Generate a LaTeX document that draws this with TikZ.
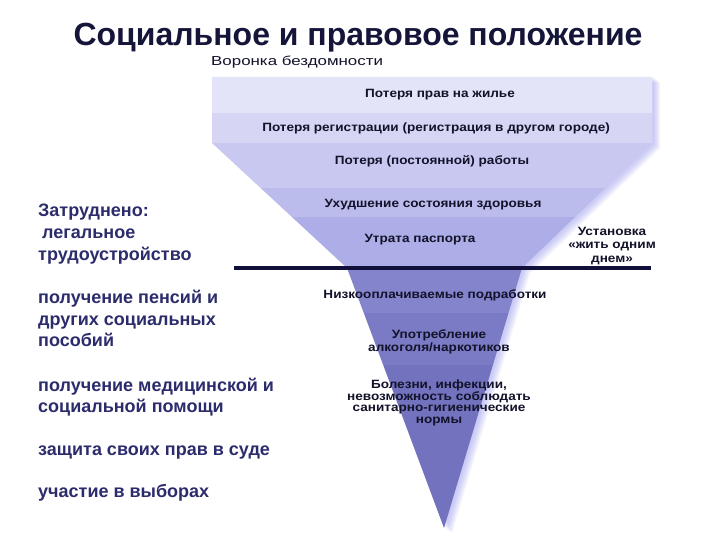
\documentclass[tikz,border=0pt]{standalone}
\usepackage{fontspec}
\setmainfont{Liberation Sans}
\newfontfamily\wideA[FakeStretch=1.13]{Liberation Sans}
\newfontfamily\wideB[FakeStretch=1.3]{Liberation Sans}
\definecolor{titlec}{HTML}{15153A}
\definecolor{sidec}{HTML}{2C2C6C}
\definecolor{bandtext}{HTML}{12122A}
\definecolor{linec}{HTML}{10103A}
\definecolor{shadowc}{HTML}{9A9AF0}
\definecolor{bA}{HTML}{E4E4F8}
\definecolor{bB}{HTML}{D6D6F4}
\definecolor{bC}{HTML}{C8C8F1}
\definecolor{bD}{HTML}{BBBBEC}
\definecolor{bE}{HTML}{ADADE7}
\definecolor{bF}{HTML}{8484CC}
\definecolor{bG}{HTML}{7A7AC5}
\definecolor{bH}{HTML}{7272BE}
\begin{document}
\begin{tikzpicture}[x=1pt,y=-1pt,
  funnelpath/.style={insert path={(212,77) -- (652,77) -- (652,143) -- (522,268) -- (444,528) -- (347,268) -- (212,143) -- cycle}},
  band/.style={font=\wideA\bfseries\fontsize{12}{12.5}\selectfont, text=bandtext, align=center, inner sep=0},
  side/.style={font=\bfseries\fontsize{18}{21}\selectfont, text=sidec, anchor=base west, inner sep=0},
]
\useasboundingbox (0,0) rectangle (720,540);
\fill[white] (0,0) rectangle (720,540);
% shadow
\foreach \i in {1,...,7} {
  \path[fill=shadowc, fill opacity=0.09, shift={(\i+1,\i*0.8)}, funnelpath];
}
% bands
\begin{scope}
  \clip[funnelpath];
  \fill[bA] (200,70) rectangle (670,113);
  \fill[bB] (200,113) rectangle (670,143);
  \fill[bC] (200,143) rectangle (670,188);
  \fill[bD] (200,188) rectangle (670,217);
  \fill[bE] (200,217) rectangle (670,268);
  \fill[bF] (200,268) rectangle (670,313);
  \fill[bG] (200,313) rectangle (670,365);
  \fill[bH] (200,365) rectangle (670,540);
\end{scope}
% separating line
\coordinate (l1) at (234,268);
\coordinate (l2) at (651,268);
\draw[line width=3.5pt, linec] (l1) -- (l2);
% title
\node[font=\bfseries\fontsize{32}{36}\selectfont, text=titlec, inner sep=0] (title) at (358,38) {Социальное и правовое положение};
\node[font=\wideB\fontsize{13}{16}\selectfont, text=bandtext, anchor=west, inner sep=0] (vb) at (211,62) {Воронка бездомности};
% funnel texts
\node[band] (t1) at (440,95) {Потеря прав на жилье};
\node[band] (t2) at (436,128) {Потеря регистрации (регистрация в другом городе)};
\node[band] (t3) at (432,161) {Потеря (постоянной) работы};
\node[band] (t4) at (433,205) {Ухудшение состояния здоровья};
\node[band] (t5) at (420,240) {Утрата паспорта};
\node[band] (t6) at (435,295) {Низкооплачиваемые подработки};
\node[band] (t7) at (439,342) {Употребление\\алкоголя/наркотиков};
\node[band, font=\wideA\bfseries\fontsize{12}{11.5}\selectfont] (t8) at (439,403) {Болезни, инфекции,\\невозможность соблюдать\\санитарно-гигиенические\\нормы};
\node[band, font=\wideA\bfseries\fontsize{12}{13.5}\selectfont] (r1) at (612,246) {Установка\\«жить одним\\днем»};
% left texts
\node[side] (s1) at (38,217) {Затруднено:};
\node[side] (s2) at (42,239) {легальное};
\node[side] (s3) at (38,260) {трудоустройство};
\node[side] (s4) at (38,303) {получение пенсий и};
\node[side] (s5) at (38,325) {других социальных};
\node[side] (s6) at (38,346) {пособий};
\node[side] (s7) at (38,391) {получение медицинской и};
\node[side] (s8) at (38,412) {социальной помощи};
\node[side] (s9) at (38,455) {защита своих прав в суде};
\node[side] (s10) at (38,497) {участие в выборах};
\end{tikzpicture}
\end{document}
